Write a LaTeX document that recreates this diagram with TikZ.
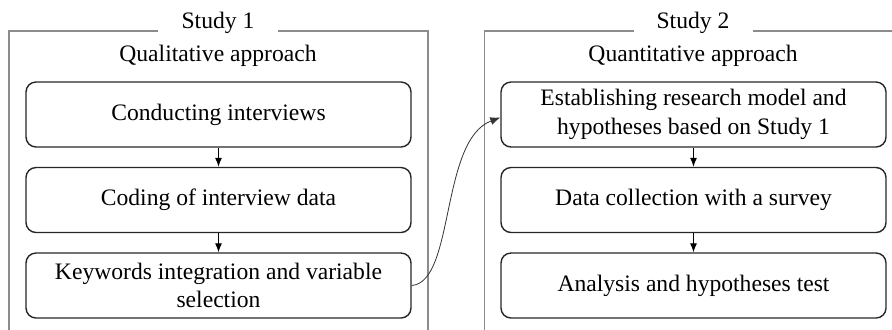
\documentclass[tikz,border=0pt]{standalone}
\usepackage{fontspec}
\setmainfont{Liberation Serif}
\usetikzlibrary{arrows.meta}
\begin{document}
\begin{tikzpicture}[x=0.5pt,y=-0.5pt,
  stepbox/.style={draw=black!85, line width=0.7pt, rounded corners=5pt,
    minimum width=192.5pt, minimum height=32.5pt, align=center, inner sep=2pt,
    font=\fontsize{11.8}{14.2}\selectfont},
  frameline/.style={draw=black!45, line width=0.55pt},
  title/.style={font=\fontsize{11.8}{14.2}\selectfont, inner sep=0pt},
  flow/.style={draw=black, line width=0.5pt, -{Latex[length=4.5pt,width=3.5pt]}},
  link/.style={draw=black!80, line width=0.4pt, -{Latex[length=5pt,width=4pt]}}]
\clip (0,0) rectangle (892,329);
% frames
\draw[frameline] (158,31) -- (9,31) -- (9,340);
\draw[frameline] (278,31) -- (428,31) -- (428,340);
\draw[frameline] (634,31) -- (484.5,31) -- (484.5,340);
\draw[frameline] (753,31) -- (900,31);
\node[title] (s1) at (218,23) {Study 1};
\node[title] (s2) at (693,23) {Study 2};
\node[title] (qa) at (218,56) {Qualitative approach};
\node[title] (qb) at (693,56) {Quantitative approach};
% boxes
\node[stepbox] (a1) at (218.5,114.5) {Conducting interviews};
\node[stepbox] (a2) at (218.5,200) {Coding of interview data};
\node[stepbox] (a3) at (218.5,285.5) {Keywords integration and variable\\selection};
\node[stepbox] (b1) at (693.5,114.5) {Establishing research model and\\hypotheses based on Study 1};
\node[stepbox] (b2) at (693.5,200) {Data collection with a survey};
\node[stepbox] (b3) at (693.5,285.5) {Analysis and hypotheses test};
% arrows
\draw[flow] (a1) -- (a2);
\draw[flow] (a2) -- (a3);
\draw[flow] (b1) -- (b2);
\draw[flow] (b2) -- (b3);
\draw[link] (a3.east) .. controls (455,282) and (440,140) .. ([yshift=-1.5pt]b1.west);
\end{tikzpicture}
\end{document}
